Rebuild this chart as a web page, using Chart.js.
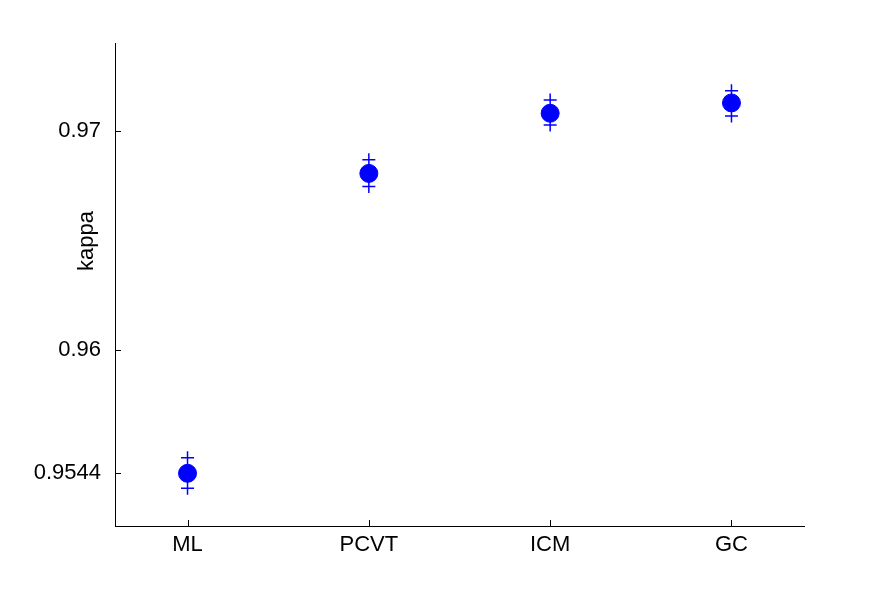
<!DOCTYPE html>
<html>
<head>
<meta charset="utf-8">
<script src="https://cdn.jsdelivr.net/npm/chart.js@4/dist/chart.umd.min.js"></script>
<style>
  html, body { margin: 0; padding: 0; background: #fff; }
  #wrap { width: 887px; height: 591px; }
</style>
</head>
<body>
<div id="wrap"><canvas id="kappachart" width="887" height="591"></canvas></div>
<script>
// methods on the x axis
var methods = ['ML', 'PCVT', 'ICM', 'GC'];
// mean kappa for each method
var kappaMean = [0.9544, 0.96806, 0.97080, 0.97127];
// upper / lower markers
var kappaUpper = [0.95511, 0.96868, 0.97140, 0.97183];
var kappaLower = [0.95372, 0.96746, 0.97026, 0.97067];
// y tick values and labels
var yTicks = [0.9544, 0.96, 0.97];
var yTickLabels = ['0.9544', '0.96', '0.97'];

var blue = '#0000ff';
var font = { family: 'Liberation Sans, Arial, sans-serif', size: 22 };

function pts(vals) {
  return vals.map(function (v, i) { return { x: i + 1, y: v }; });
}

// tick marks drawn on the inside of the axes, like matlab
var innerTicks = {
  id: 'innerTicks',
  afterDraw: function (chart) {
    var ctx = chart.ctx, a = chart.chartArea;
    var xs = chart.scales.x, ys = chart.scales.y;
    ctx.save();
    ctx.strokeStyle = '#000';
    ctx.lineWidth = 1;
    ctx.beginPath();
    yTicks.forEach(function (v) {
      var py = Math.round(ys.getPixelForValue(v)) + 0.5;
      ctx.moveTo(a.left, py);
      ctx.lineTo(a.left + 6, py);
    });
    methods.forEach(function (m, i) {
      var px = Math.round(xs.getPixelForValue(i + 1)) + 0.5;
      ctx.moveTo(px, a.bottom);
      ctx.lineTo(px, a.bottom - 6);
    });
    ctx.stroke();
    // y label
    ctx.fillStyle = '#000';
    ctx.font = font.size + 'px ' + font.family;
    ctx.translate(a.left - 17, a.top + (a.bottom - a.top) * 0.41);
    ctx.rotate(-Math.PI / 2);
    ctx.textAlign = 'center';
    ctx.textBaseline = 'bottom';
    ctx.fillText('kappa', 0, 0);
    ctx.restore();
  }
};

var ctx = document.getElementById('kappachart').getContext('2d');
var myChart = new Chart(ctx, {
  type: 'scatter',
  data: {
    datasets: [
      {
        label: 'upper',
        data: pts(kappaUpper),
        pointStyle: 'cross',
        pointRadius: 6.5,
        borderColor: blue,
        borderWidth: 1.5,
        showLine: false
      },
      {
        label: 'lower',
        data: pts(kappaLower),
        pointStyle: 'cross',
        pointRadius: 6.5,
        borderColor: blue,
        borderWidth: 1.5,
        showLine: false
      },
      {
        label: 'mean',
        data: pts(kappaMean),
        pointStyle: 'circle',
        pointRadius: 9,
        backgroundColor: blue,
        borderColor: blue,
        borderWidth: 1,
        showLine: false
      }
    ]
  },
  options: {
    responsive: false,
    animation: false,
    maintainAspectRatio: false,
    layout: { padding: { left: 0, top: 43, right: 83, bottom: 0 } },
    plugins: {
      legend: { display: false },
      tooltip: { enabled: false }
    },
    scales: {
      x: {
        type: 'linear',
        min: 0.6,
        max: 4.4,
        afterBuildTicks: function (axis) {
          axis.ticks = methods.map(function (m, i) { return { value: i + 1 }; });
        },
        afterFit: function (axis) { axis.height = 65; },
        ticks: {
          color: '#000',
          font: font,
          padding: 6,
          maxRotation: 0,
          callback: function (v) { return methods[v - 1]; }
        },
        grid: { drawOnChartArea: false, drawTicks: false },
        border: { display: true, color: '#000', width: 1 }
      },
      y: {
        min: 0.952,
        max: 0.974,
        afterBuildTicks: function (axis) {
          axis.ticks = yTicks.map(function (v) { return { value: v }; });
        },
        afterFit: function (axis) { axis.width = 115; },
        ticks: {
          color: '#000',
          font: font,
          padding: 14,
          callback: function (v) {
            var i = yTicks.indexOf(v);
            return i >= 0 ? yTickLabels[i] : '';
          }
        },
        grid: { drawOnChartArea: false, drawTicks: false },
        border: { display: true, color: '#000', width: 1 }
      }
    }
  },
  plugins: [innerTicks]
});
</script>
</body>
</html>
